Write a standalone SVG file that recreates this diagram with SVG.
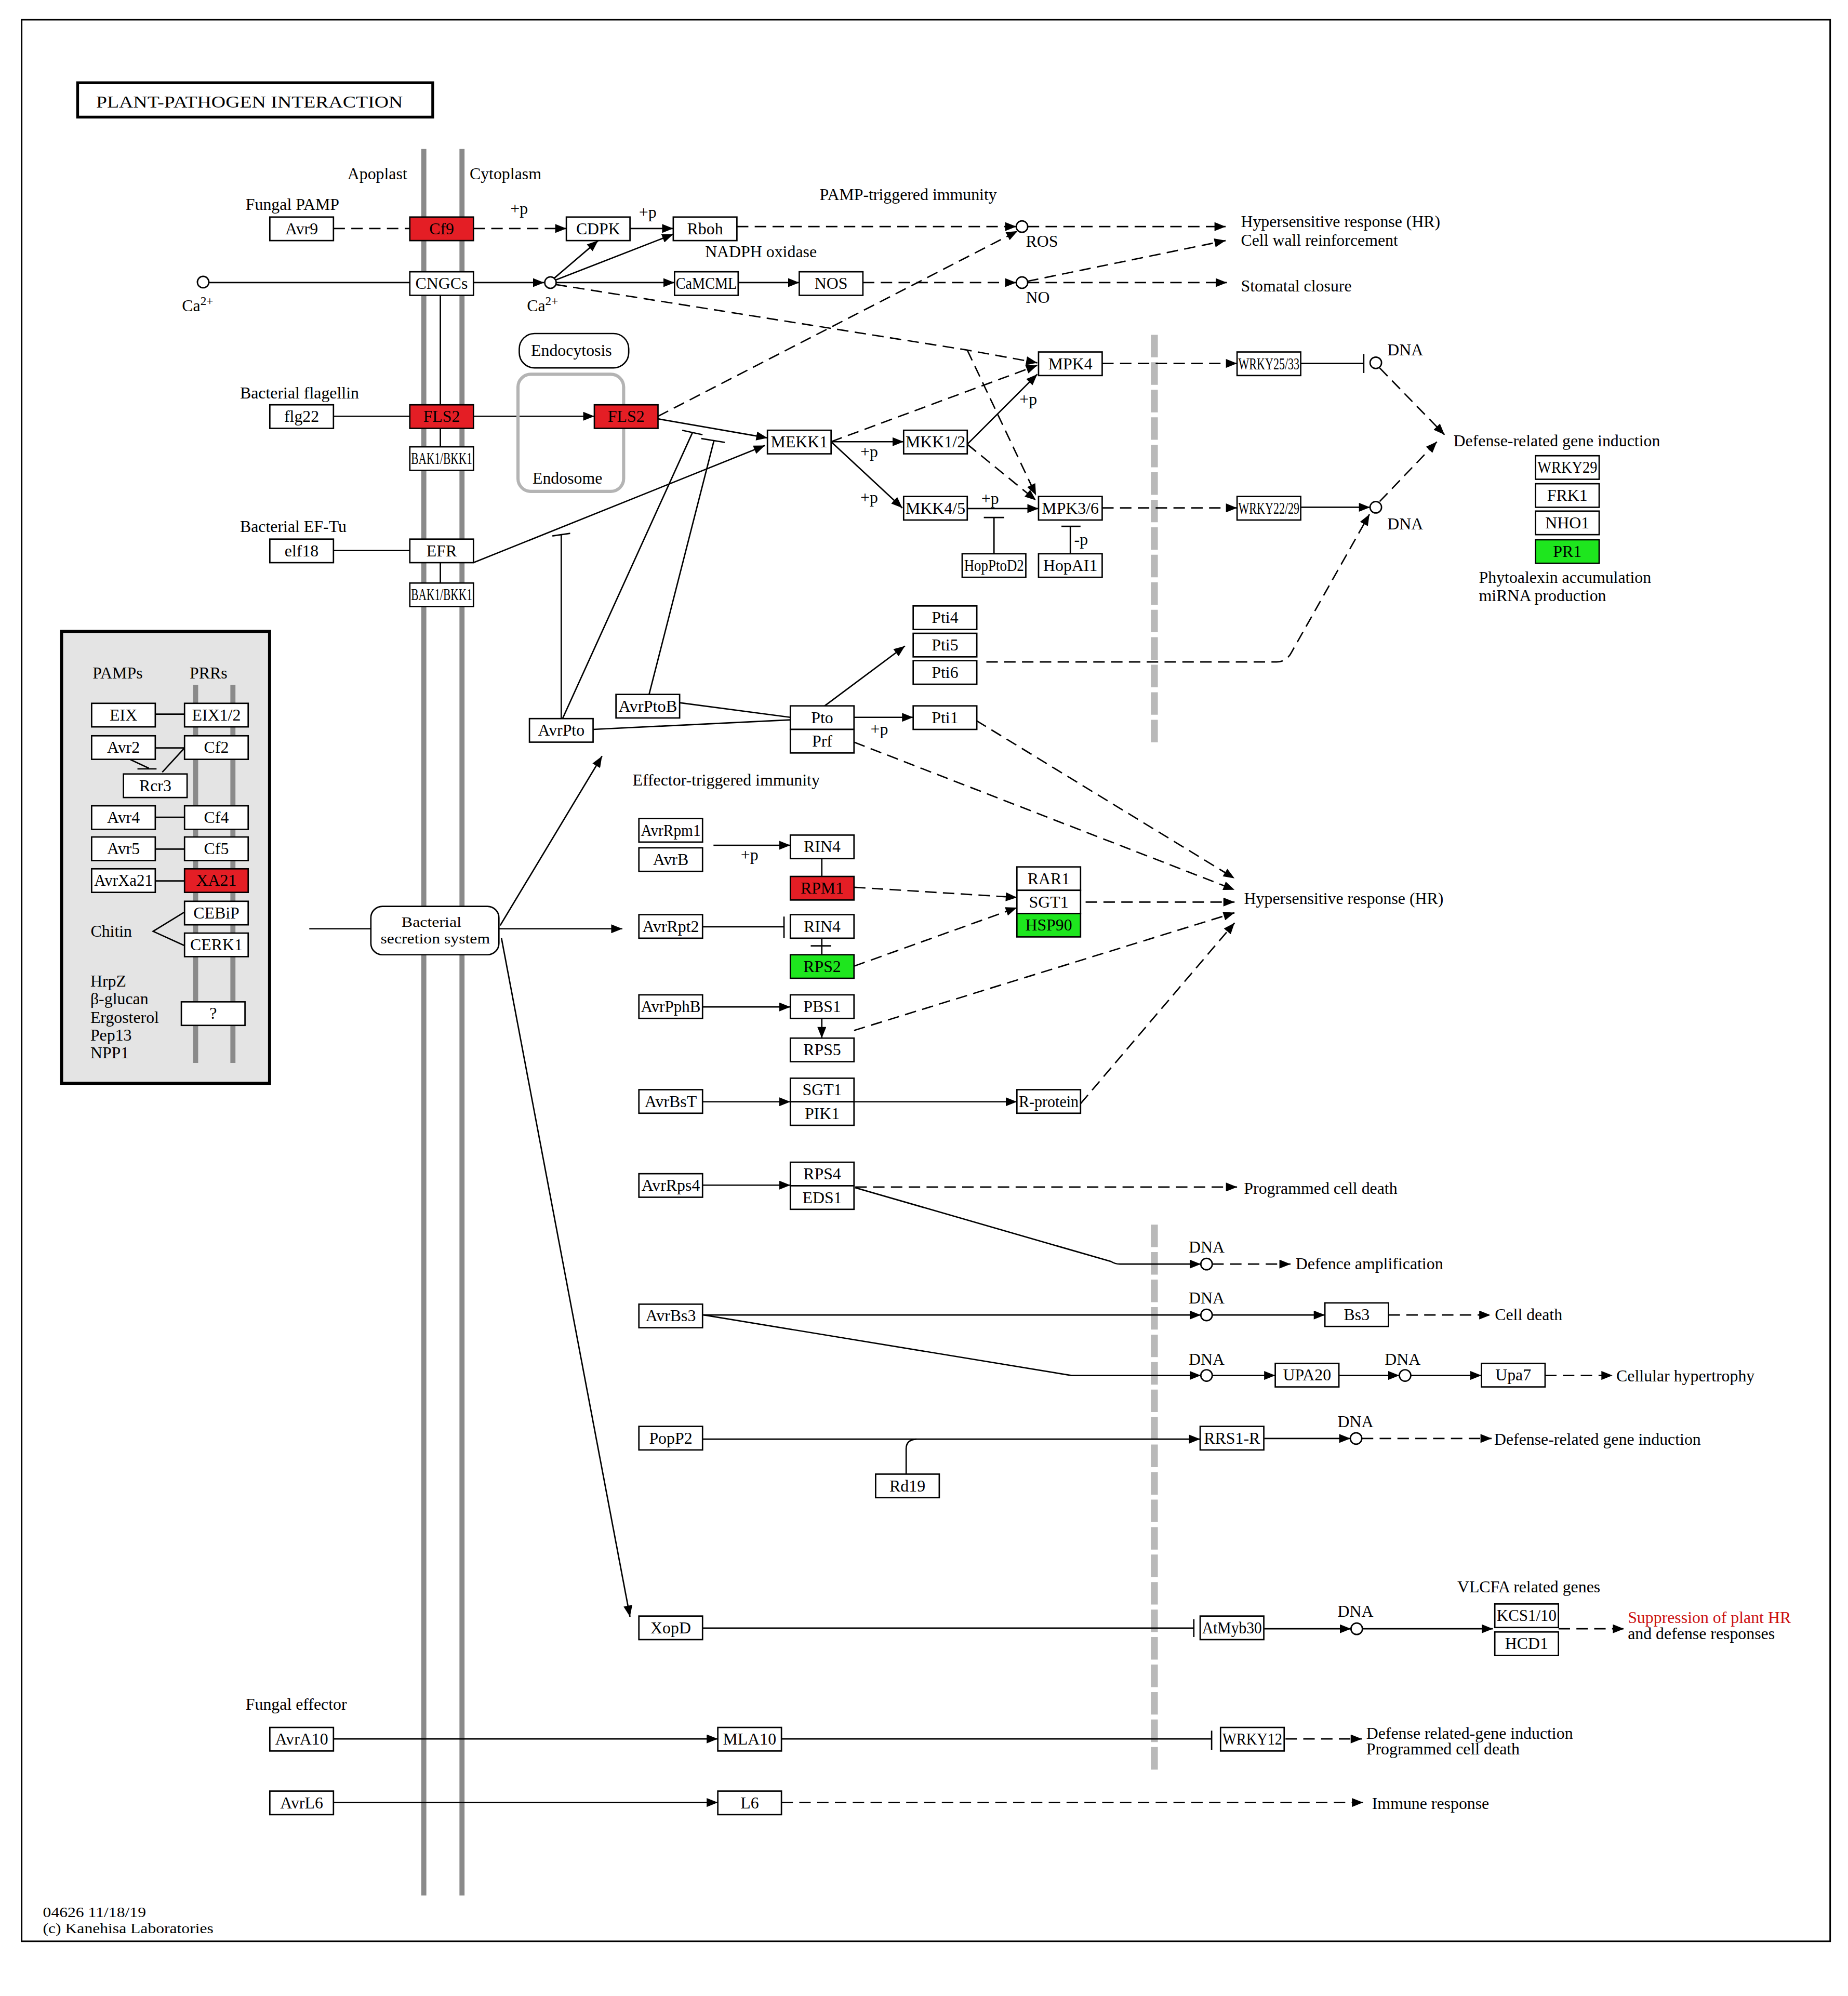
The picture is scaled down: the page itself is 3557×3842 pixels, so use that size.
<svg xmlns="http://www.w3.org/2000/svg" width="3557" height="3842" viewBox="0 0 3557 3842">
<defs>
<style>
text{font-family:"Liberation Serif","Times New Roman",serif;font-size:13px;fill:#000}
.c{text-anchor:middle}
.b{fill:#fff;stroke:#000;stroke-width:1.1}
.r{fill:#e41e25;stroke:#000;stroke-width:1.1}
.g{fill:#1ee61e;stroke:#000;stroke-width:1.1}
.l{fill:none;stroke:#000;stroke-width:1.1}
.d{stroke-dasharray:9 5}
.e{marker-end:url(#ah)}
.m{stroke:#8a8a8a;stroke-width:4;fill:none}
.n{stroke:#b9b9b9;stroke-width:5.5;stroke-dasharray:17.7 3.9;fill:none}
.o{fill:#fff;stroke:#000;stroke-width:1.1}
.s{font-size:11.5px}
</style>
<marker id="ah" viewBox="0 0 10 8" refX="10" refY="4" markerWidth="9" markerHeight="7" orient="auto" markerUnits="userSpaceOnUse"><path d="M0,0L10,4L0,8z" fill="#000"/></marker>
</defs>
<rect width="3557" height="3842" fill="#fff"/>
<g transform="scale(2.4497,2.4503)">
<rect x="17" y="15.5" width="1421" height="1509.5" fill="none" stroke="#000" stroke-width="1.2"/>
<g id="title"><rect x="61" y="65" width="279" height="27" fill="#fff" stroke="#000" stroke-width="2.2"/><text x="75.5" y="84.5" font-size="15" textLength="241" lengthAdjust="spacingAndGlyphs">PLANT-PATHOGEN  INTERACTION</text></g>

<g id="membranes">
<line class="m" x1="333" y1="117" x2="333" y2="1489"/>
<line class="m" x1="363" y1="117" x2="363" y2="1489"/>
<line class="n" x1="907" y1="263" x2="907" y2="585"/>
<line class="n" x1="907" y1="962" x2="907" y2="1394"/>
</g>

<g id="pamp-panel">
<rect x="48.4" y="496" width="163.4" height="355" fill="#e4e4e4" stroke="#000" stroke-width="2.4"/>
<line class="m" x1="153.7" y1="538" x2="153.7" y2="835" stroke-width="3.7"/>
<line class="m" x1="183" y1="538" x2="183" y2="835" stroke-width="3.7"/>
<text x="72.8" y="533">PAMPs</text>
<text x="149" y="533">PRRs</text>
<text x="71.2" y="736">Chitin</text>
<text x="71" y="775">HrpZ</text>
<text x="71" y="789">β-glucan</text>
<text x="71" y="803.5">Ergosterol</text>
<text x="71" y="817.5">Pep13</text>
<text x="71" y="831.5">NPP1</text>
</g>

<g id="labels">
<text x="273" y="141">Apoplast</text>
<text x="369" y="141">Cytoplasm</text>
<text x="193" y="165">Fungal PAMP</text>
<text x="644" y="157">PAMP-triggered immunity</text>
<text x="554" y="202">NADPH oxidase</text>
<text x="975" y="178.5">Hypersensitive response (HR)</text>
<text x="975" y="193">Cell wall reinforcement</text>
<text x="975" y="229">Stomatal closure</text>
<text x="188.6" y="313">Bacterial flagellin</text>
<text x="188.6" y="418">Bacterial EF-Tu</text>
<text x="418.4" y="380">Endosome</text>
<text x="806" y="194">ROS</text>
<text x="806" y="238">NO</text>
<text x="143" y="244.5">Ca<tspan font-size="9.5" dy="-5">2+</tspan></text>
<text x="414" y="244.5">Ca<tspan font-size="9.5" dy="-5">2+</tspan></text>
<text x="401" y="168">+p</text>
<text x="502" y="171">+p</text>
<text x="676" y="359">+p</text>
<text x="676" y="395">+p</text>
<text x="801" y="318">+p</text>
<text x="771" y="396">+p</text>
<text x="844" y="428">-p</text>
<text x="684" y="577">+p</text>
<text x="582" y="676">+p</text>
<text x="1090" y="279">DNA</text>
<text x="1090" y="416">DNA</text>
<text x="1142" y="350.5">Defense-related gene induction</text>
<text x="1162" y="458">Phytoalexin accumulation</text>
<text x="1162" y="472">miRNA production</text>
<text x="497" y="617">Effector-triggered immunity</text>
<text x="977.5" y="710">Hypersensitive response (HR)</text>
<text x="977.4" y="938">Programmed cell death</text>
<text x="934" y="984">DNA</text>
<text x="1018" y="997">Defence amplification</text>
<text x="934" y="1024">DNA</text>
<text x="1174.5" y="1037">Cell death</text>
<text x="934" y="1072">DNA</text>
<text x="1088" y="1072">DNA</text>
<text x="1270" y="1085">Cellular hypertrophy</text>
<text x="1051" y="1121">DNA</text>
<text x="1174" y="1135">Defense-related gene induction</text>
<text x="1145" y="1251">VLCFA related genes</text>
<text x="1051" y="1270">DNA</text>
<text x="1279" y="1275" style="fill:#cc1111">Suppression of plant HR</text>
<text x="1279" y="1287.5">and defense responses</text>
<text x="193" y="1343">Fungal effector</text>
<text x="1073.5" y="1366">Defense related-gene induction</text>
<text x="1073.5" y="1378">Programmed cell death</text>
<text x="1078" y="1421">Immune response</text>
<text class="s" x="33.7" y="1506" textLength="81" lengthAdjust="spacingAndGlyphs">04626 11/18/19</text>
<text class="s" x="33.7" y="1518.5" textLength="134" lengthAdjust="spacingAndGlyphs">(c) Kanehisa Laboratories</text>
</g>

<g id="connectors">
<path class="l d" d="M262,179.5H322"/>
<path class="l d e" d="M372,179.5H445"/>
<path class="l e" d="M495,179.5H529"/>
<path class="l" d="M164,222H322"/>
<path class="l e" d="M372,222H427.5"/>
<path class="l e" d="M435.5,218.5L470,189"/>
<path class="l e" d="M436.5,220L529,184"/>
<path class="l e" d="M437,222H530"/>
<path class="l e" d="M580,222H628"/>
<path class="l d e" d="M579,178H798.5"/>
<path class="l d e" d="M678,222H798.5"/>
<path class="l d e" d="M807.5,178H963"/>
<path class="l d e" d="M807,221L963,189"/>
<path class="l d e" d="M807.5,222H964"/>
<path class="l d e" d="M517,327L799.5,181.5"/>
<path class="l d e" d="M436.5,223.5L760,275L815,285"/>
<path class="l d e" d="M760,275L814,389"/>
<path class="l" d="M346,231.5V318M346,336.5V351M346,442V458"/>
<path class="l" d="M262,327H322"/>
<path class="l e" d="M372,327H467"/>
<path class="l" d="M262,432.5H322"/>
<path class="l e" d="M517,329L603,344"/>
<path class="l e" d="M372,442L601,350"/>
<path class="l" d="M442,564.5L544,340M536,338L552,341.5"/>
<path class="l" d="M510,545.5L561,346M551,344.5L569.5,347.5"/>
<path class="l" d="M441,564.5V420M434,421L448,419"/>
<path class="l e" d="M653,347H710"/>
<path class="l d e" d="M653,347L815,287"/>
<path class="l e" d="M653,347L709,399"/>
<path class="l e" d="M760,349L815,294"/>
<path class="l d e" d="M760,349L814,393"/>
<path class="l e" d="M760,399.5H816"/>
<path class="l" d="M781,435V406.5M773,406.5H789"/>
<path class="l" d="M841,435V413.5M834,413.5H849"/>
<path class="l d e" d="M866,285.5H972"/>
<path class="l d e" d="M866,399H972"/>
<path class="l" d="M1022,285.5H1071.5M1071.5,278V293"/>
<path class="l e" d="M1022,398.5H1076.5"/>
<path class="l d e" d="M1084,289L1135,341.5"/>
<path class="l d e" d="M1084,394L1129,347"/>
<path class="l d e" d="M775,520H1003Q1011,520 1015,512L1076,404"/>
<path class="l e" d="M648,554.5L711,507.5"/>
<path class="l e" d="M671,563.5H717.5"/>
<path class="l" d="M534,552L621,563.5"/>
<path class="l" d="M466,573L621,565.5"/>
<path class="l d e" d="M767,566L970,690"/>
<path class="l d e" d="M671,583L970,699"/>
<path class="l e" d="M393,727L473,594"/>
<path class="l e" d="M392,729.6H489"/>
<path class="l e" d="M394,737L495,1270"/>
<path class="l" d="M243,729.6H291.4"/>
<path class="l e" d="M560.6,664H621"/>
<path class="l" d="M645.7,674.5V688.5"/>
<path class="l d e" d="M671,697L799,705"/>
<path class="l d e" d="M853,708.6H970"/>
<path class="l" d="M552,728H616M616,720V737"/>
<path class="l" d="M645.7,737V750M637,743H653"/>
<path class="l d e" d="M671,759L799,713"/>
<path class="l e" d="M552,791H621"/>
<path class="l e" d="M645.7,800V815.5"/>
<path class="l d e" d="M671,809.5L970,717"/>
<path class="l e" d="M552,865.5H621"/>
<path class="l e" d="M671,865.5H799"/>
<path class="l d e" d="M849,867L970,725"/>
<path class="l e" d="M552,931H621"/>
<path class="l d e" d="M672,932.5H972"/>
<path class="l e" d="M672,933L873,991Q876,993 880,993H943.5"/>
<path class="l d e" d="M952.5,993H1014"/>
<path class="l e" d="M552,1033H943.5"/>
<path class="l e" d="M952.5,1033H1041"/>
<path class="l d e" d="M1091,1033H1171"/>
<path class="l e" d="M553,1033L842,1080.5H943.5"/>
<path class="l e" d="M952.5,1080.5H1002"/>
<path class="l e" d="M1052,1080.5H1099.5"/>
<path class="l e" d="M1108.5,1080.5H1164"/>
<path class="l d e" d="M1214,1080.5H1267"/>
<path class="l e" d="M552,1130.5H943"/>
<path class="l" d="M712,1158V1138Q712,1131 720,1130.5"/>
<path class="l e" d="M993.5,1130H1061"/>
<path class="l d e" d="M1070,1130H1172"/>
<path class="l" d="M552,1279H938M938,1272V1286"/>
<path class="l e" d="M993.5,1279.5H1061.5"/>
<path class="l e" d="M1070.5,1279.5H1173"/>
<path class="l d e" d="M1224.6,1279.5H1276"/>
<path class="l e" d="M262,1366H564"/>
<path class="l" d="M614,1366H952M952,1359.5V1374.5"/>
<path class="l d e" d="M1010,1366H1070"/>
<path class="l e" d="M262,1416H564"/>
<path class="l d e" d="M614,1416H1071"/>
<path class="l" d="M122,561H145M122,587.5H145M122,642H145M122,667H145M122,692H145"/>
<path class="l" d="M101,596L117,603.5M108,604H123"/>
<path class="l" d="M144.6,588L127.5,606.6"/>
<path class="l" d="M144.6,716.7L120.3,731.6L144.6,742.7"/>
</g>

<g id="circles">
<circle class="o" cx="159.6" cy="221.6" r="4.5"/>
<circle class="o" cx="432.5" cy="222" r="4.5"/>
<circle class="o" cx="803" cy="178" r="4.5"/>
<circle class="o" cx="803" cy="222" r="4.5"/>
<circle class="o" cx="1081" cy="285" r="4.5"/>
<circle class="o" cx="1081" cy="398.5" r="4.5"/>
<circle class="o" cx="948" cy="993" r="4.5"/>
<circle class="o" cx="948" cy="1033" r="4.5"/>
<circle class="o" cx="948" cy="1080.5" r="4.5"/>
<circle class="o" cx="1104" cy="1080.5" r="4.5"/>
<circle class="o" cx="1065.5" cy="1130" r="4.5"/>
<circle class="o" cx="1066" cy="1279.5" r="4.5"/>
</g>

<g id="n-endocytosis"><rect x="408" y="262" width="86" height="27" rx="12" fill="#fff" stroke="#000" stroke-width="1.1"/><text class="c" x="449" y="279.5">Endocytosis</text></g>
<g id="n-endosome"><rect x="407" y="294" width="83" height="92" rx="10" fill="none" stroke="#b4b4b4" stroke-width="2.5"/></g>
<g id="n-secretion"><rect x="291.4" y="712" width="100.6" height="38" rx="9" fill="#fff" stroke="#000" stroke-width="1.1"/><text class="c s" x="339" y="728" textLength="47" lengthAdjust="spacingAndGlyphs">Bacterial</text><text class="c s" x="342" y="741" textLength="86" lengthAdjust="spacingAndGlyphs">secretion system</text></g>

<g id="n-avr9"><rect class="b" x="212" y="170.5" width="50" height="18.5"/><text class="c" x="237" y="184">Avr9</text></g>
<g id="n-cf9"><rect class="r" x="322" y="170.5" width="50" height="18.5"/><text class="c" x="347" y="184">Cf9</text></g>
<g id="n-cdpk"><rect class="b" x="445" y="170.5" width="50" height="18.5"/><text class="c" x="470" y="184">CDPK</text></g>
<g id="n-rboh"><rect class="b" x="529" y="170.5" width="50" height="18.5"/><text class="c" x="554" y="184">Rboh</text></g>
<g id="n-cngcs"><rect class="b" x="322" y="213.5" width="50" height="18.5"/><text class="c" x="347" y="227">CNGCs</text></g>
<g id="n-camcml"><rect class="b" x="530" y="213.5" width="50" height="18.5"/><text class="c" x="555" y="227" textLength="48" lengthAdjust="spacingAndGlyphs">CaMCML</text></g>
<g id="n-nos"><rect class="b" x="628" y="213.5" width="50" height="18.5"/><text class="c" x="653" y="227">NOS</text></g>
<g id="n-flg22"><rect class="b" x="212" y="318" width="50" height="18.5"/><text class="c" x="237" y="331.5">flg22</text></g>
<g id="n-fls2"><rect class="r" x="322" y="318" width="50" height="18.5"/><text class="c" x="347" y="331.5">FLS2</text></g>
<g id="n-bak1a"><rect class="b" x="322" y="351" width="50" height="18.5"/><text class="c" x="347" y="364.5" textLength="48" lengthAdjust="spacingAndGlyphs">BAK1/BKK1</text></g>
<g id="n-fls2e"><rect class="r" x="467" y="318" width="50" height="18.5"/><text class="c" x="492" y="331.5">FLS2</text></g>
<g id="n-elf18"><rect class="b" x="212" y="423.5" width="50" height="18.5"/><text class="c" x="237" y="437">elf18</text></g>
<g id="n-efr"><rect class="b" x="322" y="423.5" width="50" height="18.5"/><text class="c" x="347" y="437">EFR</text></g>
<g id="n-bak1b"><rect class="b" x="322" y="458" width="50" height="18.5"/><text class="c" x="347" y="471.5" textLength="48" lengthAdjust="spacingAndGlyphs">BAK1/BKK1</text></g>
<g id="n-mekk1"><rect class="b" x="603" y="338" width="50" height="18.5"/><text class="c" x="628" y="351.5">MEKK1</text></g>
<g id="n-mkk12"><rect class="b" x="710" y="338" width="50" height="18.5"/><text class="c" x="735" y="351.5" textLength="47" lengthAdjust="spacingAndGlyphs">MKK1/2</text></g>
<g id="n-mkk45"><rect class="b" x="710" y="390" width="50" height="18.5"/><text class="c" x="735" y="403.5" textLength="47" lengthAdjust="spacingAndGlyphs">MKK4/5</text></g>
<g id="n-mpk4"><rect class="b" x="816" y="276.5" width="50" height="18.5"/><text class="c" x="841" y="290">MPK4</text></g>
<g id="n-mpk36"><rect class="b" x="816" y="390" width="50" height="18.5"/><text class="c" x="841" y="403.5">MPK3/6</text></g>
<g id="n-hopptod2"><rect class="b" x="756" y="435" width="50" height="18.5"/><text class="c" x="781" y="448.5" textLength="47" lengthAdjust="spacingAndGlyphs">HopPtoD2</text></g>
<g id="n-hopai1"><rect class="b" x="816" y="435" width="50" height="18.5"/><text class="c" x="841" y="448.5">HopAI1</text></g>
<g id="n-wrky2533"><rect class="b" x="972" y="276.5" width="50" height="18.5"/><text class="c" x="997" y="290" textLength="48" lengthAdjust="spacingAndGlyphs">WRKY25/33</text></g>
<g id="n-wrky2229"><rect class="b" x="972" y="390" width="50" height="18.5"/><text class="c" x="997" y="403.5" textLength="48" lengthAdjust="spacingAndGlyphs">WRKY22/29</text></g>
<g id="n-wrky29"><rect class="b" x="1206.5" y="358" width="50" height="18.5"/><text class="c" x="1231.5" y="371.5" textLength="47" lengthAdjust="spacingAndGlyphs">WRKY29</text></g>
<g id="n-frk1"><rect class="b" x="1206.5" y="380" width="50" height="18.5"/><text class="c" x="1231.5" y="393.5">FRK1</text></g>
<g id="n-nho1"><rect class="b" x="1206.5" y="401.5" width="50" height="18.5"/><text class="c" x="1231.5" y="415">NHO1</text></g>
<g id="n-pr1"><rect class="g" x="1206.5" y="424" width="50" height="18.5"/><text class="c" x="1231.5" y="437.5">PR1</text></g>
<g id="n-pti4"><rect class="b" x="717.5" y="476" width="50" height="18.5"/><text class="c" x="742.5" y="489.5">Pti4</text></g>
<g id="n-pti5"><rect class="b" x="717.5" y="497.5" width="50" height="18.5"/><text class="c" x="742.5" y="511">Pti5</text></g>
<g id="n-pti6"><rect class="b" x="717.5" y="519" width="50" height="18.5"/><text class="c" x="742.5" y="532.5">Pti6</text></g>
<g id="n-pti1"><rect class="b" x="717.5" y="554.5" width="50" height="18.5"/><text class="c" x="742.5" y="568">Pti1</text></g>
<g id="n-pto"><rect class="b" x="621" y="554.5" width="50" height="18.5"/><text class="c" x="646" y="568">Pto</text><rect class="b" x="621" y="573" width="50" height="18.5"/><text class="c" x="646" y="586.5">Prf</text></g>
<g id="n-avrpto"><rect class="b" x="416" y="564.5" width="50" height="18.5"/><text class="c" x="441" y="578">AvrPto</text></g>
<g id="n-avrptob"><rect class="b" x="484" y="545.5" width="50" height="18.5"/><text class="c" x="509" y="559" textLength="46" lengthAdjust="spacingAndGlyphs">AvrPtoB</text></g>
<g id="n-avrrpm1"><rect class="b" x="502" y="643" width="50" height="18.5"/><text class="c" x="527" y="656.5" textLength="47" lengthAdjust="spacingAndGlyphs">AvrRpm1</text></g>
<g id="n-avrb"><rect class="b" x="502" y="666" width="50" height="18.5"/><text class="c" x="527" y="679.5">AvrB</text></g>
<g id="n-rin4a"><rect class="b" x="621" y="656" width="50" height="18.5"/><text class="c" x="646" y="669.5">RIN4</text></g>
<g id="n-rpm1"><rect class="r" x="621" y="688.5" width="50" height="18.5"/><text class="c" x="646" y="702">RPM1</text></g>
<g id="n-rar1"><rect class="b" x="799" y="681" width="50" height="18.4"/><text class="c" x="824" y="694.5">RAR1</text><rect class="b" x="799" y="699.4" width="50" height="18.2"/><text class="c" x="824" y="712.8">SGT1</text><rect class="g" x="799" y="717.6" width="50" height="18.4"/><text class="c" x="824" y="731">HSP90</text></g>
<g id="n-avrrpt2"><rect class="b" x="502" y="718.5" width="50" height="18.5"/><text class="c" x="527" y="732">AvrRpt2</text></g>
<g id="n-rin4b"><rect class="b" x="621" y="718.5" width="50" height="18.5"/><text class="c" x="646" y="732">RIN4</text></g>
<g id="n-rps2"><rect class="g" x="621" y="750" width="50" height="18.5"/><text class="c" x="646" y="763.5">RPS2</text></g>
<g id="n-avrpphb"><rect class="b" x="502" y="781.5" width="50" height="18.5"/><text class="c" x="527" y="795" textLength="47" lengthAdjust="spacingAndGlyphs">AvrPphB</text></g>
<g id="n-pbs1"><rect class="b" x="621" y="781.5" width="50" height="18.5"/><text class="c" x="646" y="795">PBS1</text></g>
<g id="n-rps5"><rect class="b" x="621" y="815.5" width="50" height="18.5"/><text class="c" x="646" y="829">RPS5</text></g>
<g id="n-avrbst"><rect class="b" x="502" y="856" width="50" height="18.5"/><text class="c" x="527" y="869.5">AvrBsT</text></g>
<g id="n-sgt1pik1"><rect class="b" x="621" y="847" width="50" height="18.5"/><text class="c" x="646" y="860.5">SGT1</text><rect class="b" x="621" y="865.5" width="50" height="18.5"/><text class="c" x="646" y="879">PIK1</text></g>
<g id="n-rprotein"><rect class="b" x="799" y="856" width="50" height="18.5"/><text class="c" x="824" y="869.5" textLength="47" lengthAdjust="spacingAndGlyphs">R-protein</text></g>
<g id="n-avrrps4"><rect class="b" x="502" y="922" width="50" height="18.5"/><text class="c" x="527" y="935.5" textLength="46" lengthAdjust="spacingAndGlyphs">AvrRps4</text></g>
<g id="n-rps4eds1"><rect class="b" x="621" y="913" width="50" height="18.5"/><text class="c" x="646" y="926.5">RPS4</text><rect class="b" x="621" y="931.5" width="50" height="18.5"/><text class="c" x="646" y="945">EDS1</text></g>
<g id="n-avrbs3"><rect class="b" x="502" y="1024.5" width="50" height="18.5"/><text class="c" x="527" y="1038">AvrBs3</text></g>
<g id="n-bs3"><rect class="b" x="1041" y="1023.5" width="50" height="18.5"/><text class="c" x="1066" y="1037">Bs3</text></g>
<g id="n-upa20"><rect class="b" x="1002" y="1071" width="50" height="18.5"/><text class="c" x="1027" y="1084.5">UPA20</text></g>
<g id="n-upa7"><rect class="b" x="1164" y="1071" width="50" height="18.5"/><text class="c" x="1189" y="1084.5">Upa7</text></g>
<g id="n-popp2"><rect class="b" x="502" y="1120.5" width="50" height="18.5"/><text class="c" x="527" y="1134">PopP2</text></g>
<g id="n-rrs1r"><rect class="b" x="943" y="1120.5" width="50" height="18.5"/><text class="c" x="968" y="1134">RRS1-R</text></g>
<g id="n-rd19"><rect class="b" x="688" y="1158" width="50" height="18.5"/><text class="c" x="713" y="1171.5">Rd19</text></g>
<g id="n-xopd"><rect class="b" x="502" y="1269.5" width="50" height="18.5"/><text class="c" x="527" y="1283">XopD</text></g>
<g id="n-atmyb30"><rect class="b" x="943" y="1269.5" width="50" height="18.5"/><text class="c" x="968" y="1283" textLength="47" lengthAdjust="spacingAndGlyphs">AtMyb30</text></g>
<g id="n-kcs"><rect class="b" x="1174.5" y="1260" width="50" height="18.5"/><text class="c" x="1199.5" y="1273.5" textLength="47" lengthAdjust="spacingAndGlyphs">KCS1/10</text></g>
<g id="n-hcd1"><rect class="b" x="1174.5" y="1282" width="50" height="18.5"/><text class="c" x="1199.5" y="1295.5">HCD1</text></g>
<g id="n-avra10"><rect class="b" x="212" y="1357" width="50" height="18.5"/><text class="c" x="237" y="1370.5">AvrA10</text></g>
<g id="n-mla10"><rect class="b" x="564" y="1357" width="50" height="18.5"/><text class="c" x="589" y="1370.5">MLA10</text></g>
<g id="n-wrky12"><rect class="b" x="959" y="1357" width="50" height="18.5"/><text class="c" x="984" y="1370.5" textLength="47" lengthAdjust="spacingAndGlyphs">WRKY12</text></g>
<g id="n-avrl6"><rect class="b" x="212" y="1407" width="50" height="18.5"/><text class="c" x="237" y="1420.5">AvrL6</text></g>
<g id="n-l6"><rect class="b" x="564" y="1407" width="50" height="18.5"/><text class="c" x="589" y="1420.5">L6</text></g>

<g id="n-eix"><rect class="b" x="72" y="552.5" width="50" height="18.5"/><text class="c" x="97" y="566">EIX</text></g>
<g id="n-eix12"><rect class="b" x="145" y="552.5" width="50" height="18.5"/><text class="c" x="170" y="566">EIX1/2</text></g>
<g id="n-avr2"><rect class="b" x="72" y="578" width="50" height="18.5"/><text class="c" x="97" y="591.5">Avr2</text></g>
<g id="n-cf2"><rect class="b" x="145" y="578" width="50" height="18.5"/><text class="c" x="170" y="591.5">Cf2</text></g>
<g id="n-rcr3"><rect class="b" x="97" y="608" width="50" height="18.5"/><text class="c" x="122" y="621.5">Rcr3</text></g>
<g id="n-avr4"><rect class="b" x="72" y="633" width="50" height="18.5"/><text class="c" x="97" y="646.5">Avr4</text></g>
<g id="n-cf4"><rect class="b" x="145" y="633" width="50" height="18.5"/><text class="c" x="170" y="646.5">Cf4</text></g>
<g id="n-avr5"><rect class="b" x="72" y="657.5" width="50" height="18.5"/><text class="c" x="97" y="671">Avr5</text></g>
<g id="n-cf5"><rect class="b" x="145" y="657.5" width="50" height="18.5"/><text class="c" x="170" y="671">Cf5</text></g>
<g id="n-avrxa21"><rect class="b" x="72" y="682.5" width="50" height="18.5"/><text class="c" x="97" y="696" textLength="46" lengthAdjust="spacingAndGlyphs">AvrXa21</text></g>
<g id="n-xa21"><rect class="r" x="145" y="682.5" width="50" height="18.5"/><text class="c" x="170" y="696">XA21</text></g>
<g id="n-cebip"><rect class="b" x="145" y="708" width="50" height="18.5"/><text class="c" x="170" y="721.5">CEBiP</text></g>
<g id="n-cerk1"><rect class="b" x="145" y="733" width="50" height="18.5"/><text class="c" x="170" y="746.5">CERK1</text></g>
<g id="n-unknown"><rect class="b" x="142.5" y="787" width="50" height="18.5"/><text class="c" x="167.5" y="800.5">?</text></g>
</g>
</svg>
